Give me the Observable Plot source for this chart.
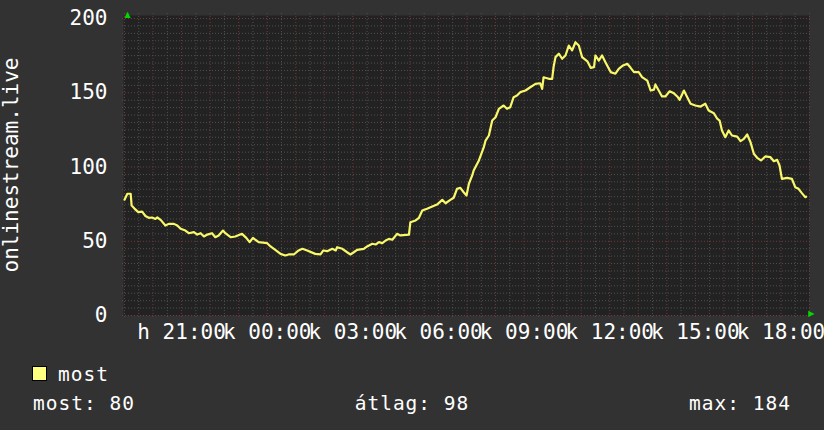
<!DOCTYPE html>
<html><head><meta charset="utf-8">
<script src="https://cdn.jsdelivr.net/npm/d3@7"></script>
<script src="https://cdn.jsdelivr.net/npm/@observablehq/plot@0.6"></script>
<style>
html,body{margin:0;padding:0;background:#323232;}
#chart{width:824px;height:430px;overflow:hidden;}
#chart svg{display:block;}
</style></head><body><div id="chart"></div>
<script>
const times = ["19:00","19:06","19:13","19:15","19:21","19:29","19:37","19:44","19:51","19:58",
"20:05","20:09","20:16","20:26","20:33","20:44","20:51","20:58","21:08","21:15","21:26","21:33","21:40","21:47","21:54",
"22:04","22:11","22:18","22:27","22:32","22:43","22:53","23:07","23:16","23:23","23:30","23:35","23:42",
"00:00","00:07","00:17","00:28","00:38","00:45","00:56","01:06","01:14","01:24","01:41","01:52","01:58",
"02:06","02:17","02:24","02:27","02:38","02:48","02:55","03:02","03:09","03:23","03:30","03:41","03:48","03:55",
"04:02","04:09","04:16","04:23","04:33","04:40","04:58","05:01","05:12","05:19","05:26","05:36","05:47","05:57",
"06:08","06:15","06:25","06:32","06:39","06:46","06:53","06:59","07:04","07:11","07:14","07:25","07:35","07:39","07:46","07:53",
"08:00","08:07","08:17","08:24","08:31","08:38","08:45","08:52","09:03","09:13","09:24","09:34","09:38","09:41","09:52","09:59",
"10:02","10:06","10:13","10:20","10:27","10:34","10:41","10:48","10:55","11:02","11:13","11:20","11:27","11:30","11:37","11:44","11:51",
"12:02","12:12","12:19","12:28","12:37","12:44","12:51","13:01","13:08","13:19","13:26","13:33","13:36","13:43","13:50","13:57",
"14:06","14:15","14:22","14:27","14:36","14:43","14:50","15:00","15:11","15:21","15:28","15:39","15:46","15:51","15:56",
"16:03","16:10","16:17","16:28","16:35","16:42","16:49","16:56","17:03","17:10","17:18","17:27","17:38","17:45","17:52","17:57",
"18:02","18:13","18:23","18:30","18:37","18:44","18:51","18:53"];
const values = [78,82,82,74,72,69.6,70,67,65.8,66,
65,66,64.4,60.6,61.7,61.7,60.6,58.4,57.2,55.4,56.1,54.5,55.4,53.2,54.5,
55.4,52.7,53.9,57.2,55.4,52.7,53.2,55,52.3,49.4,52.3,51,49.4,
48.7,46.5,44.2,41.5,40.4,41.1,41.1,43.8,44.9,43.8,41.5,41.1,43.8,
43.3,44.9,43.8,46,44.9,42.6,41.1,42.6,44.2,44.9,46.5,48.3,47.8,49.4,
48.7,50.5,51.6,51,55,53.9,54.5,62.8,64,65.8,70.7,71.9,73.4,74.7,
77.9,75.6,77.9,79.3,85.3,86,83,80.8,88.7,94.3,97.6,104.4,113,117.8,121.2,131.3,
133.5,139.2,141.4,139.2,140.3,147,148.1,150.4,151.5,153.7,156,156.4,152.6,160.4,159.4,159.4,
167.3,174,176.3,172.9,175.1,181.8,178.5,184,181.8,174,171.2,166.8,167.3,175.1,171.7,175.1,170.6,
163.9,162.8,166.1,168.4,169.5,166.8,163.9,163.9,160.5,158.2,151.5,152,155.6,151.5,147.5,147.5,
151,149.6,147.5,145.3,151.5,147,142.6,141.4,140.7,142.6,138,136.2,132.5,131.3,124.6,
120.1,124.6,121.2,120.5,117.4,118.9,121.9,116.7,108.9,106.2,104.4,107.1,106.6,103.9,104.8,101,
92,92.7,92,86.4,85.3,82.4,79.7,80];
const yTicks = [0,50,100,150,200];
const yMinorStep = 5;
const dayAbbr = ["v","h","k","sze","cs","p","szo"];
const startDay = [2024,0,8];   // hétfő
const startHour = 19;
const yTitle = "onlinestream.live";
const seriesName = "most";
const statLabels = ["most","átlag","max"];
const statValues = [80,98,184];

function toDate(s){
  const [h,m] = s.split(":").map(Number);
  return new Date(startDay[0], startDay[1], startDay[2] + (h < startHour ? 1 : 0), h, m);
}
const data = times.map((t,i)=>({t: toDate(t), v: values[i]}));
const x0 = new Date(startDay[0], startDay[1], startDay[2], startHour, 0);
const x1 = d3.timeDay.offset(x0, 1);
const hourTicks = d3.timeHour.every(1).range(x0, d3.timeMinute.offset(x1,1));
const halfTicks = d3.timeMinute.every(30).range(x0, x1).filter(d=>d.getMinutes()===30);
const labelTicks = d3.timeHour.every(3).range(d3.timeHour.offset(x0,2), x1);
const yMinor = d3.range(0, 200 + 1, yMinorStep).filter(v=>!yTicks.includes(v));
const fmt = d => `${dayAbbr[d.getDay()]} ${d3.timeFormat("%H:%M")(d)}`;

const minorC = "#505050", majorC = "#6e3a3a", dash = "1,2";
const font = "DejaVu Sans Mono, Liberation Mono, monospace";

const plot = Plot.plot({
  width: 824, height: 350,
  marginLeft: 124, marginRight: 15, marginTop: 18, marginBottom: 35,
  style: {background: "#323232", color: "#ffffff", fontFamily: font, fontSize: "21px"},
  x: {type: "time", domain: [x0, x1]},
  y: {domain: [0, 200]},
  marks: [
    Plot.frame({fill: "#222222", insetTop: -3, insetLeft: -1}),
    Plot.ruleY(yMinor, {stroke: minorC, strokeDasharray: dash, insetLeft: -2, insetRight: -2}),
    Plot.ruleX(halfTicks, {stroke: minorC, strokeDasharray: dash, insetTop: -5, insetBottom: -3}),
    Plot.ruleY(yTicks, {stroke: majorC, strokeDasharray: dash, insetLeft: -2, insetRight: -2}),
    Plot.ruleX(hourTicks, {stroke: majorC, strokeDasharray: dash, insetTop: -5, insetBottom: -3}),
    Plot.line(data, {x: "t", y: "v", stroke: "#f8f86a", strokeWidth: 2.2}),
    Plot.axisY({ticks: yTicks, tickSize: 0, tickPadding: 17, label: null, fontSize: 21}),
    Plot.axisX({ticks: labelTicks, tickSize: 0, tickPadding: 8.5, tickFormat: fmt, label: null, fontSize: 21}),
    Plot.text([yTitle], {text: d=>d, frameAnchor: "left", textAnchor: "middle", lineAnchor: "middle", dx: -113, dy: -2, rotate: -90, fill: "#ffffff", fontSize: 21}),
    Plot.text(["▲"], {text: d=>d, frameAnchor: "top-left", dy: -7, fill: "#00d800", fontSize: 8, fontFamily: "DejaVu Sans"}),
    Plot.text(["▶"], {text: d=>d, frameAnchor: "bottom-right", dx: 5, fill: "#00d800", fontSize: 8, fontFamily: "DejaVu Sans"})
  ]
});
document.getElementById("chart").appendChild(plot);

// legend below the plot
const leg = d3.select("#chart").append("svg").attr("width", 824).attr("height", 80)
  .style("font-family", font).style("font-size", "19.5px").style("letter-spacing", "1px").attr("fill", "#ffffff");
leg.append("rect").attr("x", 32.5).attr("y", 16.5).attr("width", 14).attr("height", 14)
  .attr("fill", "#ffff80").attr("stroke", "#000").attr("stroke-width", 1);
leg.append("text").attr("x", 58).attr("y", 31).text(seriesName);
const anchors = ["start", "middle", "end"], xs = [33, 412, 791];
statLabels.forEach((l,i)=>{
  leg.append("text").attr("x", xs[i]).attr("y", 59.5).attr("text-anchor", anchors[i]).text(`${l}: ${statValues[i]}`);
});
</script></body></html>
